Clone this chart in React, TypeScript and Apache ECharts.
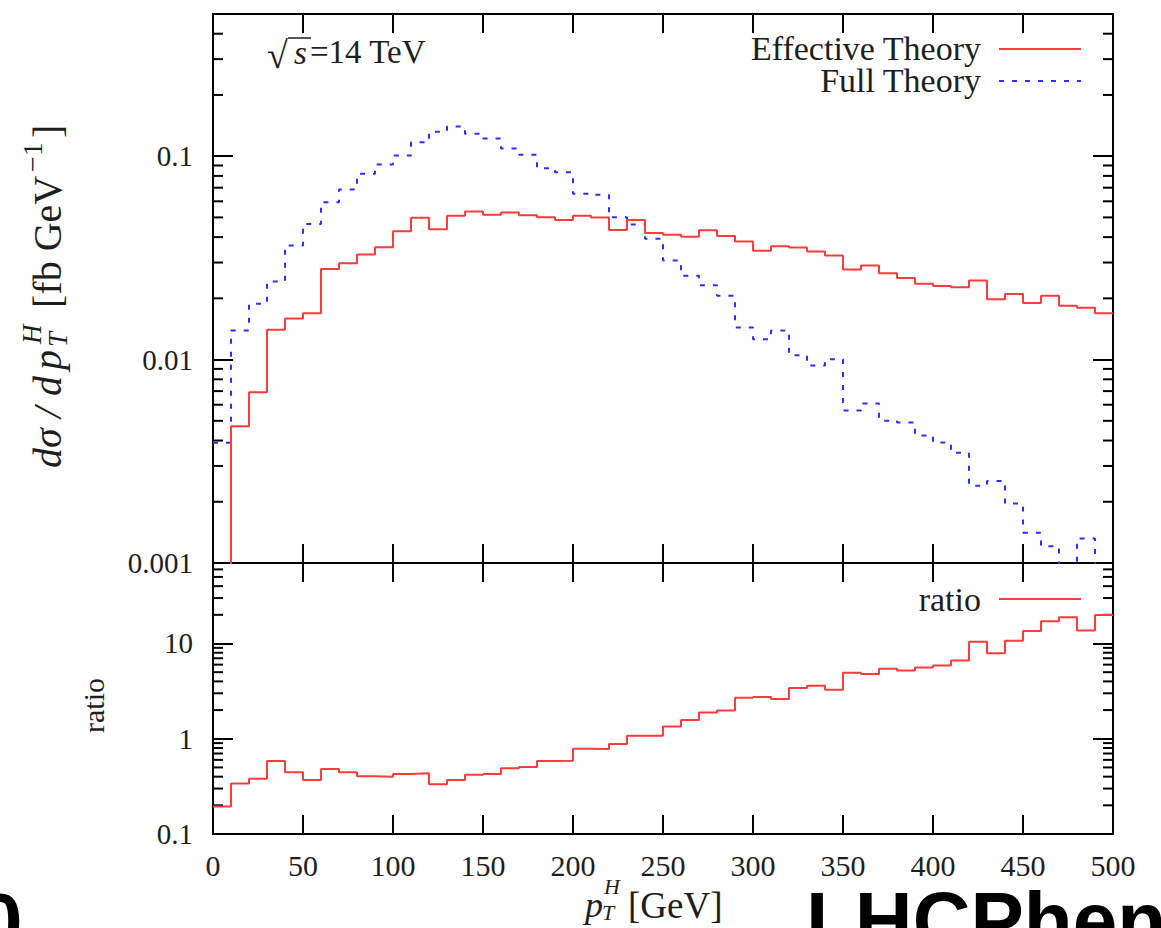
import React, { useEffect, useRef } from "react";
import * as echarts from "echarts";

// ---------------- data ----------------
const binEdges = [
  0, 10, 20, 30, 40, 50, 60, 70, 80, 90, 100, 110, 120, 130, 140, 150, 160, 170, 180, 190,
  200, 210, 220, 230, 240, 250, 260, 270, 280, 290, 300, 310, 320, 330, 340, 350, 360, 370,
  380, 390, 400, 410, 420, 430, 440, 450, 460, 470, 480, 490, 500,
];

const effectiveTheory = [
  0.00078, 0.0047, 0.0069, 0.014, 0.0159, 0.0169, 0.0279, 0.0298, 0.0329, 0.0357,
  0.0428, 0.0498, 0.0437, 0.051, 0.0535, 0.0515, 0.0529, 0.0512, 0.0501, 0.0486,
  0.051, 0.05, 0.0433, 0.0486, 0.0419, 0.0411, 0.0402, 0.0432, 0.0405, 0.0381,
  0.0343, 0.0361, 0.0356, 0.034, 0.0325, 0.0277, 0.029, 0.0266, 0.0252, 0.0236,
  0.023, 0.0227, 0.0245, 0.0198, 0.021, 0.019, 0.0206, 0.0184, 0.018, 0.0169,
];

const fullTheory = [
  0.0039, 0.0139, 0.0188, 0.0242, 0.0364, 0.0464, 0.0594, 0.0686, 0.0819, 0.091,
  0.1007, 0.117, 0.132, 0.14, 0.129, 0.122, 0.109, 0.1016, 0.0873, 0.0834,
  0.0653, 0.0646, 0.0501, 0.0462, 0.0393, 0.0307, 0.0258, 0.0232, 0.0206, 0.0144,
  0.0126, 0.0139, 0.0105, 0.00935, 0.01005, 0.00562, 0.00609, 0.00501, 0.00491, 0.00424,
  0.00391, 0.00348, 0.0024, 0.00253, 0.00196, 0.00141, 0.00121, 0.00097, 0.00132, 0.00085,
];

const ratioValues = [
  0.194, 0.34, 0.381, 0.583, 0.444, 0.369, 0.481, 0.444, 0.403, 0.4,
  0.427, 0.433, 0.332, 0.369, 0.419, 0.427, 0.489, 0.505, 0.583, 0.587,
  0.786, 0.78, 0.88, 1.075, 1.075, 1.346, 1.57, 1.89, 1.98, 2.69,
  2.74, 2.61, 3.4, 3.59, 3.26, 4.92, 4.77, 5.42, 5.2, 5.59,
  5.87, 6.62, 10.4, 7.91, 10.7, 13.5, 17.1, 18.9, 13.7, 19.9,
];

const xTickLabels = ["0", "50", "100", "150", "200", "250", "300", "350", "400", "450", "500"];
const upperTickValues = [0.001, 0.01, 0.1];
const upperTickLabels = ["0.001", "0.01", "0.1"];
const lowerTickValues = [0.1, 1, 10];
const lowerTickLabels = ["0.1", "1", "10"];
const upperMinorTicks = [
  0.002, 0.003, 0.004, 0.005, 0.006, 0.007, 0.008, 0.009,
  0.02, 0.03, 0.04, 0.05, 0.06, 0.07, 0.08, 0.09,
  0.2, 0.3, 0.4,
];
const lowerMinorTicks = [
  0.2, 0.3, 0.4, 0.5, 0.6, 0.7, 0.8, 0.9,
  2, 3, 4, 5, 6, 7, 8, 9,
  20, 30, 40, 50, 60,
];

// ---------------- helpers ----------------
const SERIF = "'Liberation Serif', 'Times New Roman', serif";
const SANS = "'Liberation Sans', Arial, sans-serif";
const TXT = "#1e1e1e";
const RED = "#ff3b3b";
const BLUE = "#2d2dff";

const toSteps = (vals: number[]) =>
  binEdges.map((x, i) => [x, vals[Math.min(i, vals.length - 1)]]);

const logLabel = (values: number[], labels: string[]) => (v: number) => {
  const i = values.findIndex((t) => Math.abs(Math.log10(t) - Math.log10(v)) < 1e-6);
  return i >= 0 ? labels[i] : "";
};

const frameLine = { show: true, onZero: false, lineStyle: { color: "#000", width: 2 } };

const xAxisDef = (gridIndex: number, position: string, showLabels: boolean) => ({
  type: "value",
  gridIndex,
  position,
  min: 0,
  max: 500,
  interval: 50,
  axisLine: frameLine,
  axisTick: { show: true, inside: true, length: 19, lineStyle: { color: "#000", width: 2 } },
  splitLine: { show: false },
  axisLabel: showLabels
    ? {
        show: true,
        margin: 16,
        fontFamily: SERIF,
        fontSize: 30,
        color: TXT,
        formatter: (v: number) => xTickLabels[Math.round(v / 50)] ?? "",
      }
    : { show: false },
});

const yAxisDef = (
  gridIndex: number,
  position: string,
  min: number,
  max: number,
  values: number[],
  labels: string[],
  showLabels: boolean
) => ({
  type: "log",
  logBase: 10,
  gridIndex,
  position,
  min,
  max,
  axisLine: frameLine,
  axisTick: { show: true, inside: true, length: 20, lineStyle: { color: "#000", width: 2 } },
  splitLine: { show: false },
  minorTick: { show: false },
  axisLabel: showLabels
    ? {
        show: true,
        margin: 20,
        showMinLabel: true,
        showMaxLabel: true,
        fontFamily: SERIF,
        fontSize: 29,
        color: TXT,
        formatter: logLabel(values, labels),
      }
    : { show: false },
});

const minorTickSeries = (xi: number, yi: number, ticks: number[]) => ({
  type: "custom",
  xAxisIndex: xi,
  yAxisIndex: yi,
  silent: true,
  clip: false,
  data: ticks.map((t) => [0, t]),
  renderItem: (_params: any, api: any) => {
    const v = api.value(1);
    const l = api.coord([0, v]);
    const r = api.coord([500, v]);
    return {
      type: "group",
      children: [
        { type: "line", shape: { x1: l[0], y1: l[1], x2: l[0] + 10, y2: l[1] }, style: { stroke: "#000", lineWidth: 2 } },
        { type: "line", shape: { x1: r[0] - 10, y1: r[1], x2: r[0], y2: r[1] }, style: { stroke: "#000", lineWidth: 2 } },
      ],
    };
  },
});

const text = (x: number, y: number, t: string, opts: any = {}) => ({
  type: "text",
  x,
  y,
  silent: true,
  style: {
    text: t,
    fill: TXT,
    fontFamily: SERIF,
    fontSize: 30,
    align: "left",
    verticalAlign: "middle",
    ...opts,
  },
});

export default function App() {
  const ref = useRef<HTMLDivElement>(null);

  useEffect(() => {
    if (!ref.current) return;
    const chart = echarts.init(ref.current, undefined, { renderer: "svg" });

    const option: any = {
      animation: false,
      backgroundColor: "#ffffff",
      grid: [
        { left: 213, top: 14, width: 900, height: 549, show: false },
        { left: 213, top: 563, width: 900, height: 271, show: false },
      ],
      xAxis: [
        xAxisDef(0, "bottom", false),
        xAxisDef(0, "top", false),
        xAxisDef(1, "bottom", true),
        xAxisDef(1, "top", false),
      ],
      yAxis: [
        yAxisDef(0, "left", 0.001, 0.5, upperTickValues, upperTickLabels, true),
        yAxisDef(0, "right", 0.001, 0.5, upperTickValues, upperTickLabels, false),
        yAxisDef(1, "left", 0.1, 70, lowerTickValues, lowerTickLabels, true),
        yAxisDef(1, "right", 0.1, 70, lowerTickValues, lowerTickLabels, false),
      ],
      series: [
        {
          name: "Effective Theory",
          type: "line",
          xAxisIndex: 0,
          yAxisIndex: 0,
          step: "end",
          symbol: "none",
          clip: true,
          data: toSteps(effectiveTheory),
          lineStyle: { color: RED, width: 2 },
          z: 3,
        },
        {
          name: "Full Theory",
          type: "line",
          xAxisIndex: 0,
          yAxisIndex: 0,
          step: "end",
          symbol: "none",
          clip: true,
          data: toSteps(fullTheory),
          lineStyle: { color: BLUE, width: 2, type: [5, 8] },
          z: 2,
        },
        {
          name: "ratio",
          type: "line",
          xAxisIndex: 2,
          yAxisIndex: 2,
          step: "end",
          symbol: "none",
          clip: true,
          data: toSteps(ratioValues),
          lineStyle: { color: RED, width: 2 },
          z: 3,
        },
        minorTickSeries(0, 0, upperMinorTicks),
        minorTickSeries(2, 2, lowerMinorTicks),
      ],
      graphic: [
        // sqrt(s) = 14 TeV
        text(267, 55, "\u221A", { fontSize: 38 }),
        { type: "line", silent: true, shape: { x1: 288, y1: 38, x2: 311, y2: 38 }, style: { stroke: TXT, lineWidth: 1.5 } },
        text(294, 53, "s", { fontSize: 33, fontStyle: "italic" }),
        text(310, 52, "=14 TeV", { fontSize: 33 }),
        // legends
        text(981, 48, "Effective Theory", { fontSize: 34, align: "right", lineHeight: 30 }),
        { type: "line", silent: true, shape: { x1: 999, y1: 49, x2: 1081, y2: 49 }, style: { stroke: RED, lineWidth: 2 } },
        text(981, 80, "Full Theory", { fontSize: 34, align: "right", lineHeight: 30 }),
        { type: "line", silent: true, shape: { x1: 999, y1: 81, x2: 1081, y2: 81 }, style: { stroke: BLUE, lineWidth: 2, lineDash: [5, 8] } },
        text(981, 599, "ratio", { fontSize: 34, align: "right", lineHeight: 30 }),
        { type: "line", silent: true, shape: { x1: 999, y1: 599, x2: 1081, y2: 599 }, style: { stroke: RED, lineWidth: 2 } },
        // y-axis title (upper)
        {
          type: "group",
          x: 47,
          y: 468,
          rotation: Math.PI / 2,
          silent: true,
          children: [
            text(0, 0, "d\u03C3", { fontSize: 40, fontStyle: "italic" }),
            text(50, 0, "/", { fontSize: 40, fontStyle: "italic" }),
            text(72, 0, "d", { fontSize: 40, fontStyle: "italic" }),
            text(98, 0, "p", { fontSize: 40, fontStyle: "italic" }),
            text(124, -15, "H", { fontSize: 27, fontStyle: "italic" }),
            text(121, 11, "T", { fontSize: 27, fontStyle: "italic" }),
            text(160, 0, "[fb GeV", { fontSize: 40 }),
            text(296, -15, "\u22121", { fontSize: 28 }),
            text(330, 0, "]", { fontSize: 40 }),
          ],
        },
        // y-axis title (lower)
        {
          type: "group",
          x: 93,
          y: 733,
          rotation: Math.PI / 2,
          silent: true,
          children: [text(0, 0, "ratio", { fontSize: 30 })],
        },
        // x-axis title
        text(585, 905, "p", { fontSize: 36, fontStyle: "italic", lineHeight: 30 }),
        text(604, 886, "H", { fontSize: 22, fontStyle: "italic", lineHeight: 18 }),
        text(602, 912, "T", { fontSize: 22, fontStyle: "italic", lineHeight: 18 }),
        text(628, 905, "[GeV]", { fontSize: 37, lineHeight: 34 }),
        // cropped slide texts
        text(806, 920, "LHCPheno", { fontFamily: SANS, fontSize: 80, fontWeight: "bold", fill: "#000", lineHeight: 58 }),
        text(-22, 921, "0", { fontFamily: SANS, fontSize: 80, fontWeight: "bold", fill: "#000", lineHeight: 58 }),
      ],
    };

    chart.setOption(option);
    return () => chart.dispose();
  }, []);

  return (
    <div
      ref={ref}
      style={{ position: "absolute", left: 0, top: 0, width: 1161, height: 928, background: "#fff" }}
    />
  );
}
